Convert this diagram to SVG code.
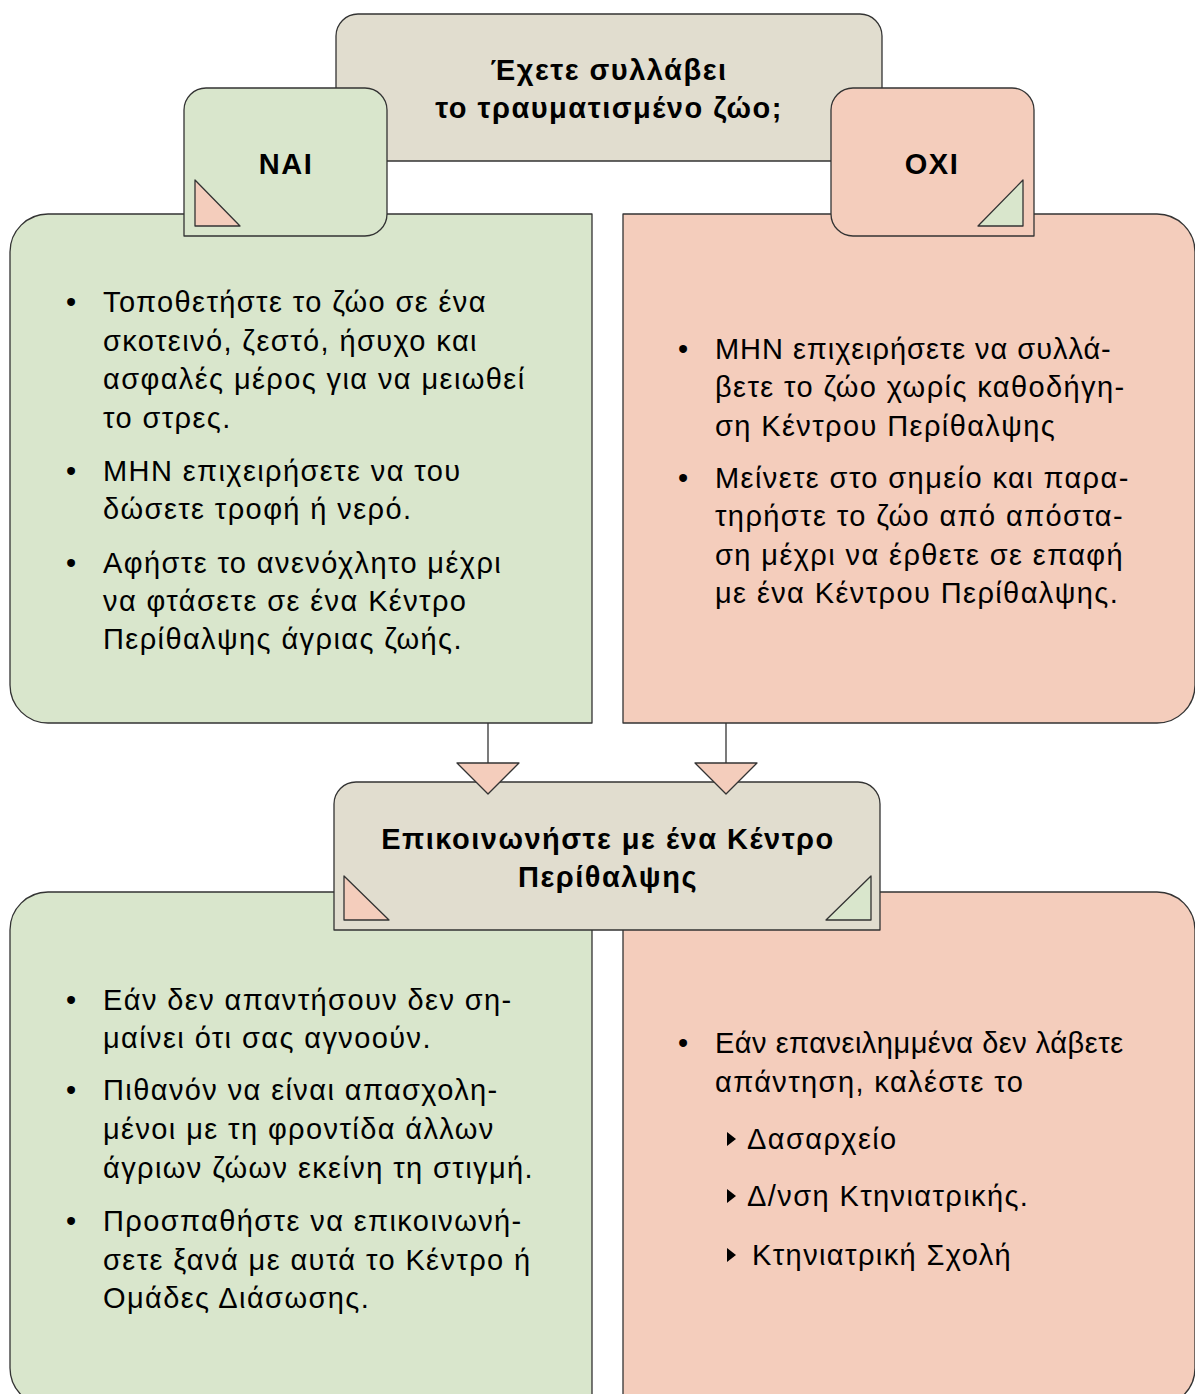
<svg xmlns="http://www.w3.org/2000/svg" width="1195" height="1394" viewBox="0 0 1195 1394">
<style>
.s{stroke:#333;stroke-width:1.3;stroke-linejoin:round}
.g{fill:#d9e6cc}
.p{fill:#f4cdbc}
.b{fill:#e1ddcf}
.t{font-family:"Liberation Sans",Arial,sans-serif;font-size:29px;letter-spacing:1.4px;fill:#000}
.h{font-family:"Liberation Sans",Arial,sans-serif;font-size:29px;letter-spacing:1.5px;font-weight:bold;fill:#000;text-anchor:middle}
</style>
<rect width="1195" height="1394" fill="#fff"/>
<g id="question">
<path class="s b" d="M336,161 V36 A22,22 0 0 1 358,14 H860 A22,22 0 0 1 882,36 V161 Z"/>
<text class="h" x="609" y="80">Έχετε συλλάβει</text>
<text class="h" x="609" y="118">το τραυματισμένο ζώο;</text>
</g>
<g id="yes-detail">
<path class="s g" d="M48,214 H592 V723 H48 A38,38 0 0 1 10,685 V252 A38,38 0 0 1 48,214 Z"/>
<text class="t" x="66" y="312">•</text>
<text class="t" x="103" y="312">Τοποθετήστε το ζώο σε ένα</text>
<text class="t" x="103" y="351">σκοτεινό, ζεστό, ήσυχο και</text>
<text class="t" x="103" y="389">ασφαλές μέρος για να μειωθεί</text>
<text class="t" x="103" y="428">το στρες.</text>
<text class="t" x="66" y="481">•</text>
<text class="t" x="103" y="481">ΜΗΝ επιχειρήσετε να του</text>
<text class="t" x="103" y="519">δώσετε τροφή ή νερό.</text>
<text class="t" x="66" y="573">•</text>
<text class="t" x="103" y="573">Αφήστε το ανενόχλητο μέχρι</text>
<text class="t" x="103" y="611">να φτάσετε σε ένα Κέντρο</text>
<text class="t" x="103" y="649">Περίθαλψης άγριας ζωής.</text>
</g>
<g id="no-detail">
<path class="s p" d="M623,214 H1157 A38,38 0 0 1 1195,252 V685 A38,38 0 0 1 1157,723 H623 Z"/>
<text class="t" x="678" y="359">•</text>
<text class="t" x="715" y="359" style="letter-spacing:0.95px">ΜΗΝ επιχειρήσετε να συλλά-</text>
<text class="t" x="715" y="397">βετε το ζώο χωρίς καθοδήγη-</text>
<text class="t" x="715" y="436">ση Κέντρου Περίθαλψης</text>
<text class="t" x="678" y="488">•</text>
<text class="t" x="715" y="488">Μείνετε στο σημείο και παρα-</text>
<text class="t" x="715" y="526">τηρήστε το ζώο από απόστα-</text>
<text class="t" x="715" y="565">ση μέχρι να έρθετε σε επαφή</text>
<text class="t" x="715" y="603">με ένα Κέντρου Περίθαλψης.</text>
</g>
<g id="yes">
<path class="s g" d="M184,236 V110 A22,22 0 0 1 206,88 H365 A22,22 0 0 1 387,110 V214 A22,22 0 0 1 365,236 Z"/>
<polygon class="s p" points="195,180 195,226 240,226"/>
<text class="h" x="286" y="174">ΝΑΙ</text>
</g>
<g id="no">
<path class="s p" d="M853,236 A22,22 0 0 1 831,214 V110 A22,22 0 0 1 853,88 H1012 A22,22 0 0 1 1034,110 V236 Z"/>
<polygon class="s g" points="1023,180 1023,226 978,226"/>
<text class="h" x="932" y="174">ΟΧΙ</text>
</g>
<g id="bottom-left">
<path class="s g" d="M48,892 H592 V1406 H48 A38,38 0 0 1 10,1368 V930 A38,38 0 0 1 48,892 Z"/>
<text class="t" x="66" y="1010">•</text>
<text class="t" x="103" y="1010">Εάν δεν απαντήσουν δεν ση-</text>
<text class="t" x="103" y="1048">μαίνει ότι σας αγνοούν.</text>
<text class="t" x="66" y="1100">•</text>
<text class="t" x="103" y="1100">Πιθανόν να είναι απασχολη-</text>
<text class="t" x="103" y="1139">μένοι με τη φροντίδα άλλων</text>
<text class="t" x="103" y="1178">άγριων ζώων εκείνη τη στιγμή.</text>
<text class="t" x="66" y="1231">•</text>
<text class="t" x="103" y="1231">Προσπαθήστε να επικοινωνή-</text>
<text class="t" x="103" y="1270">σετε ξανά με αυτά το Κέντρο ή</text>
<text class="t" x="103" y="1308">Ομάδες Διάσωσης.</text>
</g>
<g id="bottom-right">
<path class="s p" d="M623,892 H1157 A38,38 0 0 1 1195,930 V1368 A38,38 0 0 1 1157,1406 H623 Z"/>
<text class="t" x="678" y="1053">•</text>
<text class="t" x="715" y="1053" style="letter-spacing:0.5px">Εάν επανειλημμένα δεν λάβετε</text>
<text class="t" x="715" y="1092">απάντηση, καλέστε το</text>
<polygon points="727,1132 727,1146 736,1139" fill="#000"/>
<text class="t" x="747" y="1149">Δασαρχείο</text>
<polygon points="727,1189 727,1203 736,1196" fill="#000"/>
<text class="t" x="747" y="1206">Δ/νση Κτηνιατρικής.</text>
<polygon points="727,1248 727,1262 736,1255" fill="#000"/>
<text class="t" x="752" y="1265">Κτηνιατρική Σχολή</text>
</g>
<g id="contact">
<path class="s b" d="M334,930 V804 A22,22 0 0 1 356,782 H858 A22,22 0 0 1 880,804 V930 Z"/>
<polygon class="s p" points="344,876 344,920 389,920"/>
<polygon class="s g" points="871,876 871,920 826,920"/>
<text class="h" x="608" y="849">Επικοινωνήστε με ένα Κέντρο</text>
<text class="h" x="608" y="887">Περίθαλψης</text>
</g>
<g id="connectors">
<line class="s" x1="488" y1="723" x2="488" y2="763"/>
<polygon class="s p" points="457,763 519,763 488,794"/>
<line class="s" x1="726" y1="723" x2="726" y2="763"/>
<polygon class="s p" points="695,763 757,763 726,794"/>
</g>
</svg>
